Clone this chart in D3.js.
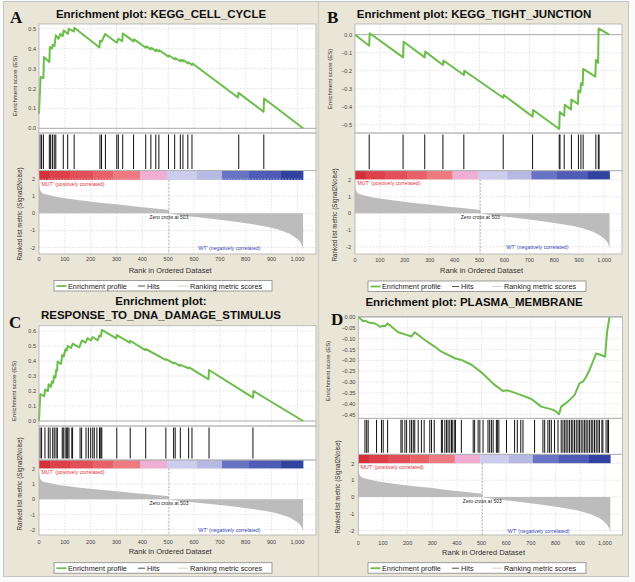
<!DOCTYPE html>
<html><head><meta charset="utf-8">
<script src="https://cdn.jsdelivr.net/npm/d3@7"></script>
<style>body{margin:0;background:#fff}svg{display:block}text{font-family:"Liberation Sans",Arial,sans-serif}text.letter{font-family:"Liberation Serif","Times New Roman",serif}</style>
</head><body><svg id="c" width="635" height="582"></svg>
<script>
// ---------------- data ----------------
const panelLetters = ["A", "B", "C", "D"];
const panelTitles = [
  ["Enrichment plot: KEGG_CELL_CYCLE"],
  ["Enrichment plot: KEGG_TIGHT_JUNCTION"],
  ["Enrichment plot:", "RESPONSE_TO_DNA_DAMAGE_STIMULUS"],
  ["Enrichment plot: PLASMA_MEMBRANE"]
];
const xTicks = [0, 100, 200, 300, 400, 500, 600, 700, 800, 900, 1000];
const esTicksA = [0, 0.1, 0.2, 0.3, 0.4, 0.5];
const esTicksB = [0, -0.1, -0.2, -0.3, -0.4, -0.5];
const esTicksC = [0, 0.1, 0.2, 0.3, 0.4, 0.5, 0.6];
const esTicksD = [0, -0.05, -0.1, -0.15, -0.2, -0.25, -0.3, -0.35, -0.4, -0.45];
const metricTicks = [2, 1, 0, -1, -2];
const zeroCross = 503;
const listSize = 1022;

// ranked list metric (rank, Signal2Noise) shared by all four plots
const metricCurve = [[0,1.75],[3,1.4],[8,1.25],[17,1.15],[43,1.05],[70,0.95],[107,0.87],[150,0.78],[236,0.62],[300,0.53],[366,0.41],[430,0.31],[495,0.21],[503,0.19],[503,0],[510,-0.03],[560,-0.14],[624,-0.24],[700,-0.37],[753,-0.48],[820,-0.62],[882,-0.78],[920,-0.92],[947,-1.06],[970,-1.2],[986,-1.35],[1000,-1.5],[1011,-1.68],[1018,-1.88],[1022,-2.1]];

// running enrichment scores (rank, ES)
const esA = [[0,0.073],[6,0.258],[17,0.253],[19,0.358],[40,0.333],[42,0.408],[50,0.40],[53,0.42],[60,0.414],[65,0.467],[76,0.45],[82,0.475],[92,0.463],[95,0.492],[112,0.475],[115,0.5],[135,0.487],[137,0.505],[234,0.406],[236,0.44],[242,0.435],[256,0.474],[301,0.43],[307,0.45],[322,0.438],[324,0.477],[366,0.437],[368,0.447],[413,0.405],[415,0.412],[433,0.397],[435,0.405],[452,0.388],[454,0.395],[464,0.386],[466,0.392],[501,0.36],[503,0.366],[525,0.347],[527,0.353],[547,0.337],[549,0.344],[557,0.337],[559,0.343],[576,0.326],[578,0.332],[592,0.318],[594,0.326],[770,0.155],[772,0.178],[869,0.083],[871,0.15],[1022,0]];
const esB = [[0,0],[57,-0.061],[59,0.008],[193,-0.126],[195,-0.039],[280,-0.126],[282,-0.094],[353,-0.168],[355,-0.143],[437,-0.224],[439,-0.2],[595,-0.35],[597,-0.335],[713,-0.455],[715,-0.418],[820,-0.524],[822,-0.43],[840,-0.45],[842,-0.39],[867,-0.415],[869,-0.36],[895,-0.385],[897,-0.31],[905,-0.32],[907,-0.27],[914,-0.28],[916,-0.19],[965,-0.233],[967,-0.14],[976,-0.157],[978,0.035],[1020,0]];
const esC = [[0,0],[5,0.18],[20,0.165],[24,0.21],[35,0.2],[37,0.245],[46,0.227],[50,0.264],[55,0.255],[58,0.3],[64,0.29],[66,0.338],[70,0.335],[72,0.397],[85,0.38],[90,0.44],[96,0.43],[102,0.478],[108,0.47],[111,0.5],[124,0.487],[130,0.515],[156,0.491],[166,0.537],[180,0.522],[188,0.553],[201,0.537],[208,0.56],[227,0.537],[234,0.571],[240,0.565],[243,0.607],[299,0.551],[301,0.573],[351,0.522],[353,0.535],[411,0.473],[413,0.48],[490,0.407],[492,0.412],[521,0.384],[523,0.39],[545,0.368],[547,0.374],[579,0.352],[581,0.357],[656,0.278],[658,0.34],[828,0.156],[830,0.2],[1022,0]];
const esD = [[0,0],[20,-0.02],[27,-0.017],[41,-0.025],[68,-0.03],[88,-0.045],[101,-0.04],[108,-0.043],[119,-0.03],[162,-0.07],[189,-0.08],[216,-0.09],[229,-0.07],[270,-0.106],[308,-0.135],[337,-0.16],[364,-0.175],[391,-0.19],[418,-0.198],[459,-0.22],[499,-0.255],[553,-0.313],[587,-0.341],[604,-0.338],[621,-0.344],[661,-0.36],[702,-0.378],[742,-0.413],[769,-0.421],[790,-0.428],[803,-0.436],[814,-0.448],[823,-0.413],[850,-0.39],[877,-0.36],[897,-0.306],[911,-0.298],[924,-0.275],[938,-0.244],[965,-0.168],[985,-0.175],[1001,-0.183],[1009,-0.068],[1019,0]];

// gene set hit ranks
const hitsA = [4,10,17,40,45,52,59,65,94,111,136,236,242,257,301,307,324,366,413,433,452,464,501,525,547,557,576,592,773,870];
const hitsB = [57,193,280,353,437,595,713,820,823,840,869,897,907,916,967,977,980];
const hitsC = [4,10,23,36,43,53,59,66,71,90,94,101,107,111,116,127,130,159,165,182,191,200,208,214,224,234,236,240,243,301,353,413,491,521,527,547,579,592,658,828];
const hitsD = [27,34,40,74,94,101,119,173,178,189,196,209,216,223,229,243,256,267,290,297,308,337,341,351,358,364,371,378,381,389,394,418,466,472,486,493,506,526,533,540,547,560,564,570,601,634,645,659,668,715,749,756,769,776,783,796,810,823,830,837,843,850,857,864,870,877,884,891,897,904,911,918,924,931,938,945,951,958,965,972,978,988,992,1005,1012,1015];

// colour bar blocks of the ranked list
const colorBarBreaks = [0,43,120,211,288,391,495,611,708,811,934,1022];
const colorBarColors = ["#d3303b","#dc4049","#e24f58","#e86068","#ed7a80","#efaed2","#cccced","#b6b9e2","#6873c4","#4f5cb5","#3242a1"];

const legendLabels = ["Enrichment profile", "Hits", "Ranking metric scores"];
const posLabel = "'MUT' (positively correlated)";
const negLabel = "'WT' (negatively correlated)";

// ---------------- layout ----------------
const layout = [
 {left:39,right:316,esTop:24,esBot:133,hitBot:170.5,cbBot:180,metBot:254,es0:128.3,esPx:199,met0:213.3,metPx:17.1,tickY:261,xTitleY:272.5,legX:54,legY:280.5,titleX:161,titleY:[17.5],letX:10,letY:23,esTitle:[17,86],metTitle:[22,214],esFmt:".1f"},
 {left:355,right:622,esTop:24,esBot:133,hitBot:170.7,cbBot:179.5,metBot:254,es0:34.7,esPx:180,met0:213.3,metPx:16.75,tickY:262,xTitleY:273,legX:368,legY:281,titleX:474,titleY:[18],letX:327,letY:23,esTitle:[332,79],metTitle:[337,215],esFmt:".1f"},
 {left:39,right:316,esTop:325.7,esBot:426,hitBot:460,cbBot:468.5,metBot:535,es0:421,esPx:150,met0:499.3,metPx:15.25,tickY:544,xTitleY:554,legX:54,legY:562.7,titleX:161,titleY:[305,318.5],letX:9,letY:327.5,esTitle:[16,391],metTitle:[22,484],esFmt:".1f"},
 {left:358.3,right:622.6,esTop:316.7,esBot:418.3,hitBot:454.3,cbBot:463.3,metBot:535,es0:317,esPx:217,met0:497,metPx:16.75,tickY:544.5,xTitleY:554.5,legX:368,legY:562.7,titleX:474,titleY:[305.5],letX:331,letY:325,esTitle:[330,371],metTitle:[340,487],esFmt:".2f"}
];
const esData = [esA, esB, esC, esD];
const esTicks = [esTicksA, esTicksB, esTicksC, esTicksD];
const hits = [hitsA, hitsB, hitsC, hitsD];

const svg = d3.select("#c");
const BEIGE = "#e9e5d7";
svg.append("rect").attr("x",0).attr("y",0).attr("width",635).attr("height",582).attr("fill","#fafafa");
svg.append("rect").attr("x",3.5).attr("y",1.5).attr("width",625).attr("height",575).attr("fill",BEIGE).attr("stroke","#c4c4c4");
svg.append("line").attr("x1",318.5).attr("x2",318.5).attr("y1",2).attr("y2",576).attr("stroke","#d2d0c8").attr("stroke-width",1.5);

const GRID = "#d6d6d6";
const fmtX = d3.format(",");

layout.forEach((L, i) => {
  const g = svg.append("g");
  const x = d3.scaleLinear().domain([0, 1072]).range([L.left, L.right]);
  const yEs = d3.scaleLinear().domain([0, 1]).range([L.es0, L.es0 - L.esPx]);
  const yM = d3.scaleLinear().domain([0, 1]).range([L.met0, L.met0 - L.metPx]);
  const W = L.right - L.left;

  // title & letter
  panelTitles[i].forEach((t, k) => {
    g.append("text").attr("x", L.titleX).attr("y", L.titleY[k]).attr("text-anchor","middle")
      .attr("font-size", 11.5).attr("font-weight","bold").attr("fill","#111").text(t);
  });
  g.append("text").attr("class","letter").attr("x", L.letX).attr("y", L.letY)
    .attr("font-size", 17).attr("font-weight","bold").attr("fill","#111").text(panelLetters[i]);

  // panels backgrounds
  g.append("rect").attr("x",L.left).attr("y",L.esTop).attr("width",W).attr("height",L.metBot-L.esTop).attr("fill","#fff");

  // ES grid
  xTicks.forEach(t => {
    if (t === 0) return;
    g.append("line").attr("x1",x(t)).attr("x2",x(t)).attr("y1",L.esTop).attr("y2",L.esBot)
      .attr("stroke",GRID).attr("stroke-width",0.7).attr("stroke-dasharray","1.5,1.5");
  });
  esTicks[i].forEach(t => {
    if (t !== 0) g.append("line").attr("x1",L.left).attr("x2",L.right).attr("y1",yEs(t)).attr("y2",yEs(t))
      .attr("stroke",GRID).attr("stroke-width",0.7).attr("stroke-dasharray","1.5,1.5");
    g.append("text").attr("x",L.left-3).attr("y",yEs(t)+2).attr("text-anchor","end")
      .attr("font-size",5.5).attr("fill","#444").text(d3.format(L.esFmt)(t));
  });
  g.append("line").attr("x1",L.left).attr("x2",L.right).attr("y1",yEs(0)).attr("y2",yEs(0))
    .attr("stroke","#a8a8a8").attr("stroke-width",1);

  // ES curve
  g.append("path").datum(esData[i]).attr("fill","none").attr("stroke","#6cbd4b").attr("stroke-width",2)
    .attr("stroke-linejoin","round")
    .attr("d", d3.line().x(d => x(d[0])).y(d => yEs(d[1])));

  // hits
  hits[i].forEach(h => {
    g.append("line").attr("x1",x(h)).attr("x2",x(h)).attr("y1",L.esBot+1.5).attr("y2",L.hitBot-1.5)
      .attr("stroke","#111").attr("stroke-width",1);
  });

  // colour bar
  colorBarColors.forEach((c, k) => {
    g.append("rect").attr("x",x(colorBarBreaks[k])).attr("y",L.hitBot)
      .attr("width",x(colorBarBreaks[k+1])-x(colorBarBreaks[k])+0.3).attr("height",L.cbBot-L.hitBot).attr("fill",c);
  });

  // metric grid
  xTicks.forEach(t => {
    if (t === 0) return;
    g.append("line").attr("x1",x(t)).attr("x2",x(t)).attr("y1",L.cbBot).attr("y2",L.metBot)
      .attr("stroke",GRID).attr("stroke-width",0.7).attr("stroke-dasharray","1.5,1.5");
  });
  metricTicks.forEach(t => {
    g.append("line").attr("x1",L.left).attr("x2",L.right).attr("y1",yM(t)).attr("y2",yM(t))
      .attr("stroke",GRID).attr("stroke-width",0.7).attr("stroke-dasharray","1.5,1.5");
    g.append("text").attr("x",L.left-4).attr("y",yM(t)+2).attr("text-anchor","end")
      .attr("font-size",5.5).attr("fill","#444").text(t);
  });

  // metric area
  g.append("path").datum(metricCurve).attr("fill","#bcbcbc")
    .attr("d", d3.area().x(d => x(d[0])).y0(yM(0)).y1(d => yM(d[1])));

  // zero cross
  g.append("line").attr("x1",x(zeroCross)).attr("x2",x(zeroCross)).attr("y1",L.cbBot).attr("y2",L.metBot)
    .attr("stroke","#9a9a9a").attr("stroke-width",0.7).attr("stroke-dasharray","2,1.5");
  g.append("text").attr("x",x(zeroCross)).attr("y",yM(0)+5.5).attr("text-anchor","middle")
    .attr("font-size",5).attr("fill","#222").text("Zero cross at " + zeroCross);

  g.append("text").attr("x",L.left+1.5).attr("y",L.cbBot+5.5).attr("font-size",5.2).attr("fill","#e0363e").text(posLabel);
  g.append("text").attr("x",x(857)).attr("y",yM(-2)+2.5).attr("text-anchor","end").attr("font-size",5.2).attr("fill","#3a48b6").text(negLabel);

  // borders
  [[L.esTop,L.esBot],[L.esBot,L.hitBot],[L.hitBot,L.metBot]].forEach(([a,b]) => {
    g.append("rect").attr("x",L.left).attr("y",a).attr("width",W).attr("height",b-a)
      .attr("fill","none").attr("stroke","#b0b0b0").attr("stroke-width",0.8);
  });

  // x ticks
  xTicks.forEach(t => {
    g.append("text").attr("x",x(t)).attr("y",L.tickY).attr("text-anchor","middle")
      .attr("font-size",5.5).attr("fill","#444").text(fmtX(t));
  });
  g.append("text").attr("x",(x(0)+x(1000))/2+2).attr("y",L.xTitleY).attr("text-anchor","middle")
    .attr("font-size",7.5).attr("fill","#333").text("Rank in Ordered Dataset");

  // y titles
  g.append("text").attr("transform",`translate(${L.esTitle[0]},${L.esTitle[1]}) rotate(-90)`)
    .attr("text-anchor","middle").attr("font-size",6).attr("fill","#333").text("Enrichment score (ES)");
  g.append("text").attr("transform",`translate(${L.metTitle[0]},${L.metTitle[1]}) rotate(-90)`)
    .attr("text-anchor","middle").attr("font-size",6.3).attr("fill","#333").text("Ranked list metric (Signal2Noise)");

  // legend
  const lg = g.append("g").attr("transform",`translate(${L.legX},${L.legY})`);
  lg.append("rect").attr("width",218).attr("height",10.5).attr("fill","#fff").attr("stroke","#888").attr("stroke-width",0.8);
  lg.append("line").attr("x1",2.5).attr("x2",12.5).attr("y1",5.5).attr("y2",5.5).attr("stroke","#6cbd4b").attr("stroke-width",1.8);
  lg.append("text").attr("x",14).attr("y",8).attr("font-size",7.3).attr("fill","#222").text(legendLabels[0]);
  lg.append("line").attr("x1",84).attr("x2",91).attr("y1",5.5).attr("y2",5.5).attr("stroke","#222").attr("stroke-width",0.8);
  lg.append("text").attr("x",93).attr("y",8).attr("font-size",7.3).attr("fill","#222").text(legendLabels[1]);
  lg.append("line").attr("x1",124).attr("x2",134).attr("y1",5.5).attr("y2",5.5).attr("stroke","#c8c8c8").attr("stroke-width",0.8);
  lg.append("text").attr("x",136).attr("y",8).attr("font-size",7.3).attr("fill","#222").text(legendLabels[2]);
});
</script>
</body></html>
